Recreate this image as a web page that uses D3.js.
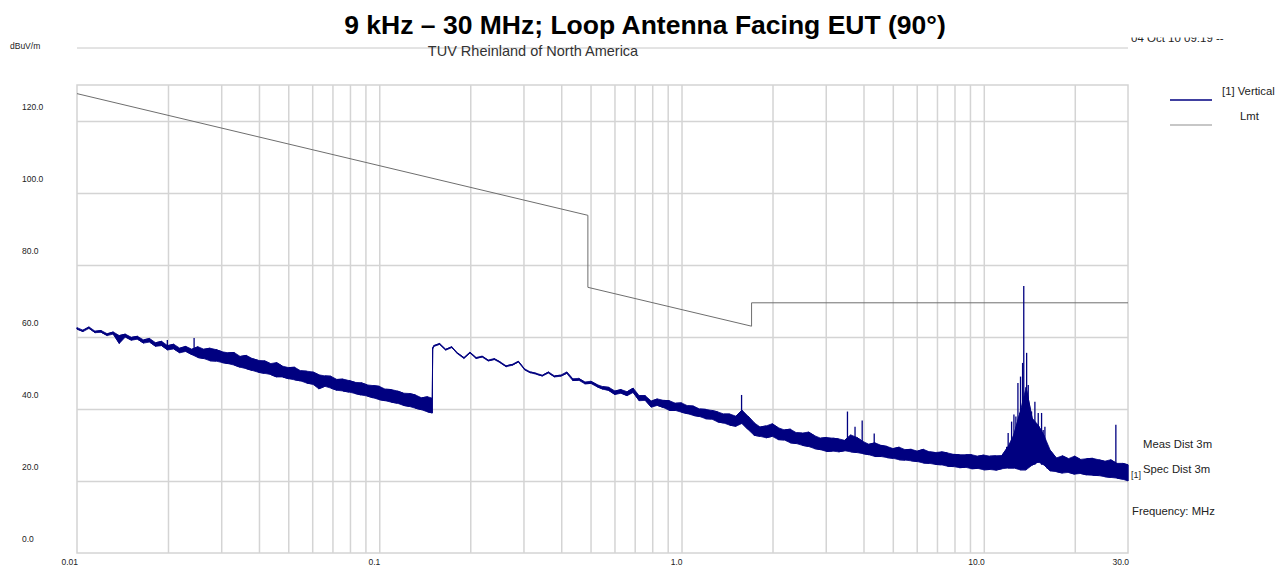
<!DOCTYPE html>
<html>
<head>
<meta charset="utf-8">
<script src="https://cdn.jsdelivr.net/npm/d3@7"></script>
<style>
  body { margin: 0; background: #fff; font-family: "Liberation Sans", Arial, sans-serif; }
  .grid line { stroke: #d4d4d4; stroke-width: 1.5; }
  .grid path { display: none; }
  .small { font-size: 9px; fill: #222; }
  .note { font-size: 11.3px; fill: #222; }
</style>
</head>
<body>
<div id="chart"></div>
<script>
const width = 1287
const height = 569
const margin = {top: 85, bottom: 16, left: 77, right: 159}
const netWidth = width - margin.left - margin.right
const netHeight = height - margin.top - margin.bottom

// Axis ticks
const gridFreqs = [0.02, 0.03, 0.04, 0.05, 0.06, 0.07, 0.08, 0.09, 0.1, 0.2, 0.3, 0.4, 0.5, 0.6, 0.7, 0.8, 0.9,
                   1, 2, 3, 4, 5, 6, 7, 8, 9, 10, 20]
const xLabelFreqs = [0.01, 0.1, 1, 10, 30]
const xLabels = ["0.01", "0.1", "1.0", "10.0", "30.0"]
const gridLevels = [20, 40, 60, 80, 100, 120]
const yLabels = [0, 20, 40, 60, 80, 100, 120]

// Limit line (dBuV/m)
const limitFreq = [0.01, 0.49, 0.49, 1.705, 1.705, 30]
const limitLevel = [127.6, 93.8, 73.8, 63.0, 69.5, 69.5]

// Measured trace [1] Vertical: frequency (MHz), upper and lower level of the noise band (dBuV/m)
const traceFreq = [
  0.0100, 0.01047, 0.01096, 0.01148, 0.01202, 0.01259, 0.01318, 0.01380, 0.01445, 0.01514,
  0.01585, 0.01660, 0.01738, 0.01820, 0.01905, 0.01995, 0.02089, 0.02188, 0.02291, 0.02399,
  0.02512, 0.02630, 0.02754, 0.02884, 0.03020, 0.03162, 0.03311, 0.03467, 0.03631, 0.03802,
  0.03981, 0.04169, 0.04365, 0.04571, 0.04786, 0.05012, 0.05248, 0.05495, 0.05754, 0.06026,
  0.06310, 0.06607, 0.06918, 0.07244, 0.07586, 0.07943, 0.08318, 0.08710, 0.09120, 0.09550,
  0.1000, 0.1047, 0.1096, 0.1148, 0.1202, 0.1259, 0.1318, 0.1380, 0.1445, 0.1498,
  0.1502, 0.1514, 0.1585, 0.1660, 0.1738, 0.1820, 0.1905, 0.1995, 0.2089, 0.2188,
  0.2291, 0.2399, 0.2512, 0.2630, 0.2754, 0.2884, 0.3020, 0.3162, 0.3311, 0.3467,
  0.3631, 0.3802, 0.3981, 0.4169, 0.4365, 0.4571, 0.4786, 0.5012, 0.5248, 0.5495,
  0.5754, 0.6026, 0.6310, 0.6607, 0.6918, 0.7244, 0.7586, 0.7943, 0.8318, 0.8710,
  0.9120, 0.9550, 1.000, 1.047, 1.096, 1.148, 1.202, 1.259, 1.318, 1.380,
  1.445, 1.514, 1.585, 1.660, 1.738, 1.820, 1.905, 1.995, 2.089, 2.188,
  2.291, 2.399, 2.512, 2.630, 2.754, 2.884, 3.020, 3.162, 3.311, 3.467,
  3.631, 3.802, 3.981, 4.169, 4.365, 4.571, 4.786, 5.012, 5.248, 5.495,
  5.754, 6.026, 6.310, 6.607, 6.918, 7.244, 7.586, 7.943, 8.318, 8.710,
  9.120, 9.550, 10.00, 10.47, 10.96, 11.48, 12.02, 12.59, 13.18, 13.80,
  14.45, 15.14, 15.85, 16.60, 17.38, 18.20, 19.05, 19.95, 20.89, 21.88,
  22.91, 23.99, 25.12, 26.30, 27.54, 28.84, 30.00
]
const traceHi = [
  62.6, 61.9, 62.8, 61.6, 61.8, 60.9, 61.4, 60.4, 60.8, 59.9,
  60.2, 59.2, 59.6, 58.4, 58.8, 57.6, 58.0, 56.9, 57.4, 56.6,
  57.3, 56.6, 56.9, 56.5, 55.9, 55.6, 55.7, 54.6, 54.9, 54.0,
  53.5, 53.4, 52.6, 52.9, 51.9, 51.5, 51.6, 50.6, 50.5, 50.3,
  49.5, 49.2, 49.1, 48.2, 48.3, 47.9, 47.4, 47.3, 46.7, 46.5,
  46.3, 45.5, 45.4, 45.0, 44.4, 44.3, 43.9, 43.1, 43.4, 43.0,
  57.0, 57.6, 58.2, 56.6, 57.3, 55.5, 54.3, 55.8, 54.3, 54.7,
  53.6, 54.0, 53.1, 52.0, 52.4, 53.3, 51.2, 50.3, 49.9, 49.4,
  50.3, 49.2, 49.4, 50.3, 48.4, 48.5, 47.5, 47.7, 46.8, 46.2,
  46.0, 45.0, 45.4, 44.8, 45.8, 43.7, 43.7, 42.2, 42.8, 42.4,
  42.3, 41.6, 41.7, 40.9, 40.8, 40.0, 39.9, 39.6, 39.2, 38.6,
  38.6, 38.0, 39.7, 38.0, 36.2, 35.0, 35.3, 35.9, 34.8, 34.2,
  34.4, 33.4, 33.3, 33.6, 32.6, 31.9, 32.1, 31.9, 31.7, 31.3,
  32.8, 32.1, 31.0, 30.2, 30.6, 29.9, 29.6, 29.0, 29.4, 28.7,
  28.8, 28.3, 28.8, 28.1, 27.9, 28.1, 27.8, 27.4, 27.3, 27.3,
  27.3, 26.9, 27.2, 26.9, 27.0, 27.1, 29.5, 33.0, 39.0, 46.0,
  37.5, 35.5, 32.5, 28.5, 26.4, 27.0, 26.2, 26.9, 26.0, 26.2,
  26.3, 25.9, 25.5, 25.9, 24.9, 24.9, 24.5
]
const traceLo = [
  62.2, 61.5, 62.4, 61.2, 61.3, 60.4, 60.8, 58.2, 60.0, 59.1,
  59.4, 58.3, 58.6, 57.4, 57.6, 56.4, 56.7, 55.6, 56.0, 55.1,
  54.3, 54.0, 53.4, 53.3, 52.9, 52.6, 52.2, 51.6, 51.2, 50.7,
  50.2, 49.9, 49.6, 48.9, 48.9, 48.4, 48.1, 47.8, 47.2, 46.9,
  45.6, 46.3, 45.8, 45.2, 45.0, 44.7, 44.3, 43.9, 43.6, 43.1,
  42.6, 42.3, 41.9, 41.6, 41.0, 40.7, 40.2, 39.8, 39.2, 38.9,
  56.75, 57.35, 57.95, 56.35, 57.05, 55.25, 54.05, 55.55, 54.05, 54.45,
  53.35, 53.75, 52.85, 51.75, 52.15, 53.05, 50.95, 50.05, 49.65, 49.15,
  50.0, 48.9, 49.1, 49.9, 47.9, 48.0, 47.0, 47.1, 46.2, 45.5,
  45.1, 44.0, 44.4, 43.7, 44.6, 42.3, 42.4, 40.5, 41.0, 40.4,
  39.6, 39.6, 39.1, 38.7, 38.2, 37.9, 37.3, 37.2, 36.4, 36.1,
  35.5, 35.2, 36.0, 34.3, 32.7, 32.4, 32.0, 32.4, 31.5, 31.4,
  30.6, 30.4, 29.9, 29.6, 29.0, 28.7, 28.2, 28.3, 28.1, 28.4,
  28.1, 27.9, 27.6, 27.3, 26.8, 26.8, 26.5, 26.3, 25.9, 25.8,
  25.6, 25.4, 25.0, 24.9, 24.6, 24.5, 24.1, 24.0, 23.7, 23.8,
  23.4, 23.5, 23.1, 23.2, 23.0, 23.4, 23.6, 23.6, 23.1, 23.1,
  24.4, 25.3, 24.4, 22.8, 22.6, 22.2, 22.4, 21.9, 22.1, 21.7,
  21.6, 21.5, 21.2, 21.0, 20.8, 20.5, 20.0
]

// Narrow spikes on top of the noise band
const spikeFreq = [0.0199, 0.0244, 1.58, 3.54, 3.75, 3.96, 4.34,
                   11.90, 12.04, 12.36, 12.58, 12.77, 12.97, 13.23, 13.44, 13.56, 13.86, 14.03, 14.21,
                   14.39, 14.57, 14.76, 14.95, 15.14, 15.53, 15.72, 15.93, 16.21, 27.35]
const spikeTop  = [59.2, 59.7, 43.9, 39.3, 35.1, 36.8, 33.2,
                   29.5, 33.3, 36.5, 38.5, 37.9, 47.2, 49.0, 52.8, 74.2, 55.6, 46.7, 38.9,
                   39.3, 36.1, 42.0, 35.6, 38.9, 38.9, 34.2, 35.1, 29.5, 35.6]
const spikeBase = [56.5, 56.0, 38.0, 29.0, 28.5, 28.0, 27.5,
                   24.0, 24.0, 24.0, 24.0, 23.5, 23.5, 23.5, 23.5, 23.5, 23.5, 24.0, 24.5,
                   24.5, 24.5, 24.5, 25.0, 25.0, 24.5, 24.5, 24.5, 23.5, 22.0]

const traceColor = "#000080"

const svg = d3.select("div#chart").append("svg").attr("width", width).attr("height", height)

// Headings
svg.append("text").attr("x", 645).attr("y", 33.5).attr("text-anchor", "middle")
  .style("font-size", "26.5px").style("font-weight", "bold").attr("fill", "#000")
  .text("9 kHz \u2013 30 MHz; Loop Antenna Facing EUT (90\u00b0)")
svg.append("line").attr("x1", margin.left).attr("x2", width - margin.right).attr("y1", 48).attr("y2", 48)
  .attr("stroke", "#c8c8c8").attr("stroke-width", 1)
svg.append("text").attr("x", 533).attr("y", 56).attr("text-anchor", "middle")
  .style("font-size", "14.5px").attr("fill", "#333").text("TUV Rheinland of North America")
svg.append("text").attr("x", 10).attr("y", 49).attr("class", "small").style("font-size", "8.5px").text("dBuV/m")

// Date stamp, top half cut off as in the print
svg.append("clipPath").attr("id", "dateClip").append("rect")
  .attr("x", 1100).attr("y", 37.5).attr("width", 187).attr("height", 20)
svg.append("text").attr("x", 1131).attr("y", 42).attr("clip-path", "url(#dateClip)")
  .attr("class", "note").style("font-size", "11.5px").attr("fill", "#333").text("04 Oct 10 09:19 --")

const x = d3.scaleLog().domain([0.01, 30]).range([0, netWidth])
const y = d3.scaleLinear().domain([0, 130]).range([netHeight, 0])

const plot = svg.append("g").attr("transform", `translate(${margin.left}, ${margin.top})`)

// Grid lines
plot.append("g").attr("class", "grid").attr("transform", `translate(0, ${netHeight})`)
  .call(d3.axisBottom(x).tickValues(gridFreqs).tickSize(-netHeight).tickFormat(""))
plot.append("g").attr("class", "grid")
  .call(d3.axisLeft(y).tickValues(gridLevels).tickSize(-netWidth).tickFormat(""))
plot.append("rect").attr("width", netWidth).attr("height", netHeight)
  .attr("fill", "none").attr("stroke", "#d4d4d4").attr("stroke-width", 1.5)

// Tick labels
svg.append("g").selectAll("text").data(yLabels).enter().append("text")
  .attr("class", "small").style("font-size", "8.5px")
  .attr("x", 22).attr("y", d => margin.top + y(d) - 11)
  .text(d => d.toFixed(1))
svg.append("g").selectAll("text").data(xLabelFreqs).enter().append("text")
  .attr("class", "small").style("font-size", "8.5px").attr("text-anchor", "end")
  .attr("x", d => margin.left + x(d) + 1).attr("y", 565)
  .text((d, i) => xLabels[i])

// Limit line
plot.append("path")
  .attr("d", d3.line().x(i => x(limitFreq[i])).y(i => y(limitLevel[i]))(d3.range(limitFreq.length)))
  .attr("fill", "none").attr("stroke", "#6e6e6e").attr("stroke-width", 1)

// Measured trace: noise band plus zigzag between its edges
const idx = d3.range(traceFreq.length)
plot.append("path")
  .attr("d", d3.area().x(i => x(traceFreq[i])).y0(i => y(traceLo[i])).y1(i => y(traceHi[i]))(idx))
  .attr("fill", traceColor).attr("stroke", traceColor).attr("stroke-width", 0.8)
const zig = []
idx.forEach(i => {
  const a = [traceFreq[i], traceHi[i]], b = [traceFreq[i], traceLo[i]]
  if (i % 2 === 0) zig.push(a, b); else zig.push(b, a)
})
plot.append("path")
  .attr("d", d3.line().x(d => x(d[0])).y(d => y(d[1]))(zig))
  .attr("fill", "none").attr("stroke", traceColor).attr("stroke-width", 1)
plot.append("g").selectAll("line").data(spikeFreq).enter().append("line")
  .attr("x1", d => x(d)).attr("x2", d => x(d))
  .attr("y1", (d, i) => y(spikeBase[i])).attr("y2", (d, i) => y(spikeTop[i]))
  .attr("stroke", traceColor).attr("stroke-width", 1.3)

// Legend
svg.append("line").attr("x1", 1170).attr("x2", 1212).attr("y1", 100).attr("y2", 100)
  .attr("stroke", traceColor).attr("stroke-width", 1.5)
svg.append("text").attr("x", 1222).attr("y", 95).attr("class", "note").text("[1] Vertical")
svg.append("line").attr("x1", 1170).attr("x2", 1212).attr("y1", 125).attr("y2", 125)
  .attr("stroke", "#b4b4b4").attr("stroke-width", 1.5)
svg.append("text").attr("x", 1240).attr("y", 120).attr("class", "note").text("Lmt")

// Notes on the right
svg.append("text").attr("x", 1143).attr("y", 448).attr("class", "note").text("Meas Dist 3m")
svg.append("text").attr("x", 1143).attr("y", 473).attr("class", "note").text("Spec Dist 3m")
svg.append("text").attr("x", 1131).attr("y", 478).attr("class", "small").text("[1]")
svg.append("text").attr("x", 1132).attr("y", 515).attr("class", "note").text("Frequency: MHz")
</script>
</body>
</html>
